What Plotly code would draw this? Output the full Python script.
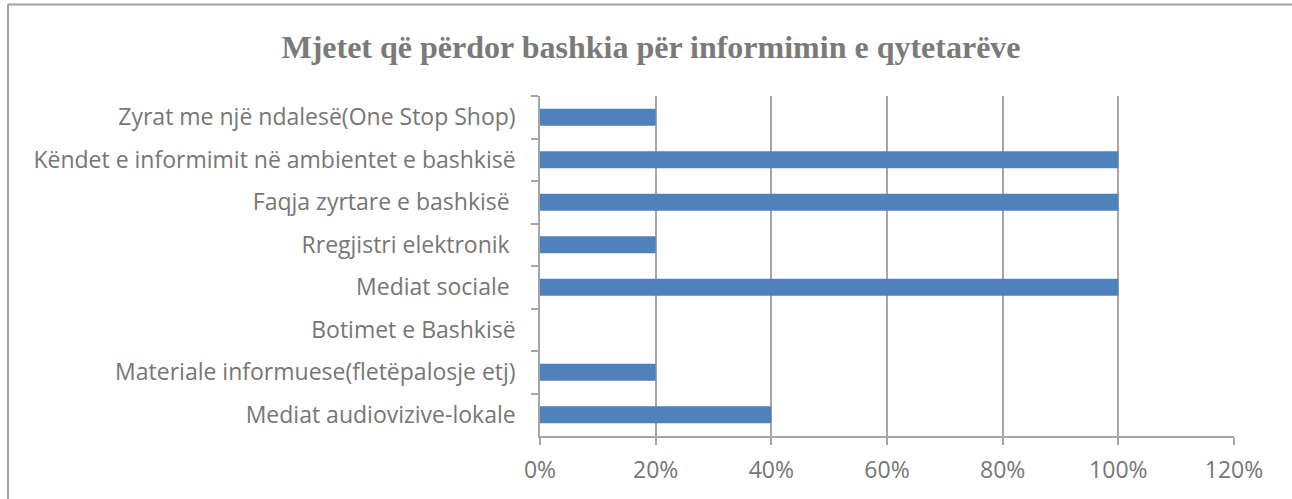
import plotly.graph_objects as go

categories = [
    "Zyrat me një ndalesë(One Stop Shop)",
    "Këndet e informimit në ambientet e bashkisë",
    "Faqja zyrtare e bashkisë ",
    "Rregjistri elektronik ",
    "Mediat sociale ",
    "Botimet e Bashkisë",
    "Materiale informuese(fletëpalosje etj)",
    "Mediat audiovizive-lokale",
]
values = [0.20, 1.00, 1.00, 0.20, 1.00, 0.0, 0.20, 0.40]
title_text = "Mjetet që përdor bashkia për informimin e qytetarëve"

W, H = 1292, 499
ml, mr, mt, mb = 540, 58, 96, 63
pw, ph = W - ml - mr, H - mt - mb

fig = go.Figure(go.Bar(
    x=values, y=categories, orientation="h",
    marker=dict(color="#4F81BD", line=dict(width=0)),
    width=0.4,
))

grid = "#A6A6A6"
txt = "#767676"
fs = 23
bx0 = (8 - ml) / pw
bx1 = (W + 5 - ml) / pw
by0 = -(H + 5 - mt - ph) / ph
by1 = 1 + (mt - 4.5) / ph
border = dict(color="#A0A0A0", width=2)
fig.update_layout(
    width=W, height=H,
    margin=dict(l=ml, r=mr, t=mt, b=mb, autoexpand=False),
    paper_bgcolor="white", plot_bgcolor="white",
    showlegend=False,
    title=dict(text="<b>" + title_text + "</b>", x=(651) / W, xanchor="center",
               y=1 - 47 / H, yanchor="middle",
               font=dict(family="Liberation Serif", size=32, color="#7a7a7a")),
    font=dict(family="Open Sans", size=fs, color=txt),
    xaxis=dict(range=[0, 1.2], dtick=0.2, tick0=0, tickformat=".0%",
               showgrid=True, gridcolor=grid, gridwidth=1.5,
               showline=True, linecolor=grid, linewidth=1.5,
               ticks="outside", ticklen=7, tickcolor=grid, tickwidth=1.5,
               zeroline=False, ticklabelstandoff=6,
               tickfont=dict(family="Open Sans", size=fs, color=txt)),
    yaxis=dict(autorange="reversed", showline=True, linecolor=grid, linewidth=1.5,
               ticks="outside", ticklen=7, tickcolor=grid, tickwidth=1.5,
               tickson="boundaries", showgrid=False, ticklabelstandoff=18,
               tickfont=dict(family="Open Sans", size=fs, color=txt)),
    shapes=[
        dict(type="line", xref="paper", yref="paper", x0=bx0, x1=bx1, y0=by1, y1=by1,
             line=border, layer="below"),
        dict(type="line", xref="paper", yref="paper", x0=bx0, x1=bx0, y0=by0, y1=by1,
             line=border, layer="below"),
    ],
)

fig.write_html("out.html", config={"displayModeBar": False},
               post_script="document.body.style.margin='0';document.body.style.overflow='hidden';document.documentElement.style.overflow='hidden';")
